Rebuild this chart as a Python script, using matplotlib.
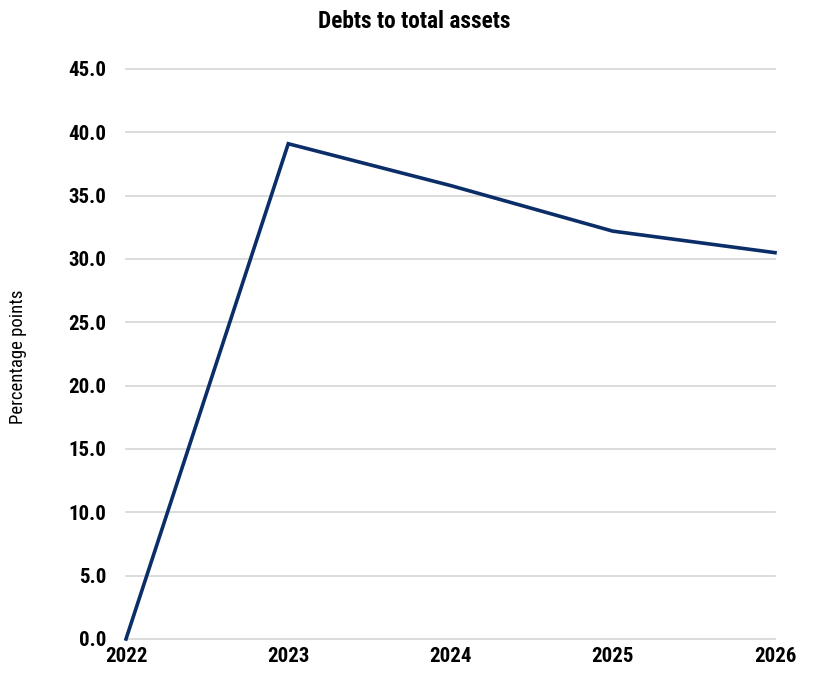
import matplotlib
matplotlib.use('Agg')
import matplotlib.pyplot as plt
from matplotlib import font_manager

# Debt ratio, percentage points
years = [2022, 2023, 2024, 2025, 2026]
debt_ratio = [0.0, 39.1, 35.8, 32.2, 30.5]
y_ticks = [0, 5, 10, 15, 20, 25, 30, 35, 40, 45]

# pick a narrow sans if one is around
names = {f.name for f in font_manager.fontManager.ttflist}
candidates = ['Roboto Condensed', 'Archivo Narrow', 'PT Sans Narrow', 'IBM Plex Sans Condensed',
              'Encode Sans Condensed', 'Barlow Semi Condensed', 'Liberation Sans Narrow']
fonts = [c for c in candidates if c in names][:1] + ['Liberation Sans', 'DejaVu Sans']
plt.rcParams['font.family'] = fonts

fig = plt.figure(figsize=(8.13, 6.75), dpi=100)
ax = fig.add_axes([126 / 813, 1 - 639 / 675, (775 - 126) / 813, (639 - 69) / 675])

ax.plot(years, debt_ratio, color='#0b2d68', linewidth=2.6, clip_on=False,
        solid_joinstyle='miter', zorder=3)

ax.set_xlim(2022, 2026)
ax.set_ylim(0, 45)
ax.set_xticks(years)
ax.set_yticks(y_ticks)
ax.set_yticklabels(['%.1f' % v for v in y_ticks])
ax.grid(axis='y', color='#d9d9d9', linewidth=1.3)
for gl in ax.get_ygridlines():
    gl.set_clip_on(False)
ax.set_axisbelow(True)
for s in ax.spines.values():
    s.set_visible(False)
ax.tick_params(length=0, labelsize=15)
ax.tick_params(axis='y', pad=14)
ax.tick_params(axis='x', pad=6)
for lab in ax.get_xticklabels() + ax.get_yticklabels():
    lab.set_fontweight('bold')

fig.text(414 / 813, 1 - 22 / 675, 'Debts to total assets', ha='center', va='center',
         fontsize=16.8, fontweight='semibold')
fig.text(18 / 813, 1 - 357 / 675, 'Percentage points', ha='center', va='center',
         rotation=90, fontsize=13.5)

fig.savefig('out.png', dpi=100)
